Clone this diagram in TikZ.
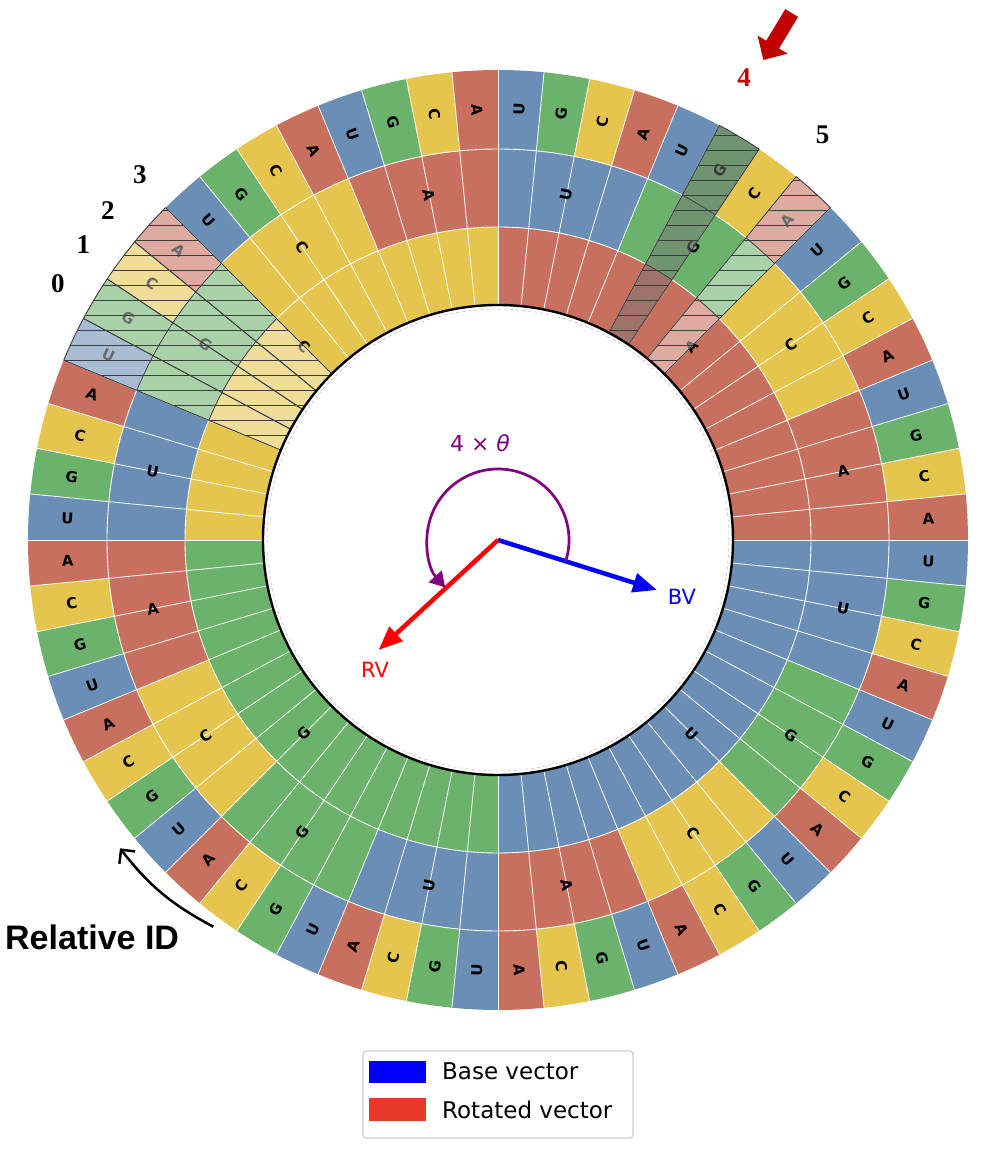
\documentclass[tikz,border=0pt]{standalone}
\usepackage{fontspec}
\setmainfont{Liberation Serif}
\newfontfamily\djs{DejaVu Sans}
\newfontfamily\lsans{Liberation Sans}
\usetikzlibrary{arrows.meta}
\definecolor{cA}{HTML}{C96F5E}
\definecolor{cU}{HTML}{6A8EB5}
\definecolor{cG}{HTML}{6BB26B}
\definecolor{cC}{HTML}{E6C54F}
\definecolor{hatchline}{HTML}{3C3C3C}
\definecolor{darkred}{HTML}{C00000}
\definecolor{vpurple}{HTML}{800080}
\definecolor{legred}{HTML}{E8382A}
\definecolor{legborder}{HTML}{CCCCCC}
\definecolor{hgray}{HTML}{767676}
\begin{document}
\begin{tikzpicture}[x=1pt,y=1pt,
  seglbl/.style={font=\djs\bfseries\fontsize{15}{15}\selectfont, inner sep=0pt, text=black},
  numlbl/.style={font=\bfseries\fontsize{27}{27}\selectfont, inner sep=0pt},
  hovlight/.style={fill=white, fill opacity=0.42},
  hovdark/.style={fill=hgray, fill opacity=0.5},
  hline/.style={draw=hatchline, line width=0.9pt},
  vecarrow/.style={line width=4.5pt, -{Triangle[length=24pt,width=19pt]}},
  veclbl/.style={font=\djs\fontsize{21}{21}\selectfont, inner sep=0pt},
  legtext/.style={font=\djs\fontsize{23}{23}\selectfont, anchor=base west, inner sep=0pt}]
\useasboundingbox (-498,-610) rectangle (499,540);

% ---------- ring cells ----------
\foreach \i in {0,...,63}{
  \pgfmathsetmacro\aone{90-5.625*(\i+1)}
  \pgfmathsetmacro\atwo{90-5.625*\i}
  \pgfmathtruncatemacro\q{floor(\i/16)}
  \pgfmathtruncatemacro\m{mod(floor(\i/4),4)}
  \pgfmathtruncatemacro\o{mod(\i,4)}
  \edef\Lq{\ifcase\q A\or U\or G\or C\fi}
  \edef\Lm{\ifcase\m U\or G\or C\or A\fi}
  \edef\Lo{\ifcase\o U\or G\or C\or A\fi}
  \fill[c\Lq] (\aone:235pt) arc[start angle=\aone,end angle=\atwo,radius=235pt] -- (\atwo:313.5pt) arc[start angle=\atwo,end angle=\aone,radius=313.5pt] -- cycle;
  \fill[c\Lm] (\aone:313pt) arc[start angle=\aone,end angle=\atwo,radius=313pt] -- (\atwo:391.5pt) arc[start angle=\atwo,end angle=\aone,radius=391.5pt] -- cycle;
  \fill[c\Lo] (\aone:391pt) arc[start angle=\aone,end angle=\atwo,radius=391pt] -- (\atwo:470pt) arc[start angle=\atwo,end angle=\aone,radius=470pt] -- cycle;
}
% white separators
\foreach \i in {0,...,63}{
  \draw[white, line width=0.8pt] ({90-5.625*\i}:235pt) -- ({90-5.625*\i}:470pt);
}
\draw[white, line width=0.9pt] (0,0) circle[radius=313pt];
\draw[white, line width=0.9pt] (0,0) circle[radius=391pt];

% ---------- labels ----------
\foreach \i in {0,...,63}{
  \pgfmathsetmacro\mid{90-5.625*(\i+0.5)}
  \pgfmathsetmacro\rot{cos(\mid)>0 ? \mid : \mid+180}
  \pgfmathtruncatemacro\o{mod(\i,4)}
  \edef\Lo{\ifcase\o U\or G\or C\or A\fi}
  \node[seglbl, rotate=\rot] (ol\i) at (\mid:431pt) {\Lo};
}
\foreach \g in {0,...,15}{
  \pgfmathsetmacro\mid{90-22.5*(\g+0.5)}
  \pgfmathsetmacro\rot{cos(\mid)>0 ? \mid : \mid+180}
  \pgfmathtruncatemacro\m{mod(\g,4)}
  \edef\Lm{\ifcase\m U\or G\or C\or A\fi}
  \node[seglbl, rotate=\rot] (ml\g) at (\mid:352pt) {\Lm};
}
\foreach \qq/\L in {0/A,1/U,2/G,3/C}{
  \pgfmathsetmacro\mid{90-90*(\qq+0.5)}
  \pgfmathsetmacro\rot{cos(\mid)>0 ? \mid : \mid+180}
  \node[seglbl, rotate=\rot] (il\qq) at (\mid:274pt) {\L};
}

% ---------- hatched wedges ----------
\foreach \i/\kind in {7/light,52/light,53/light,54/light,55/light,5/dark}{
  \pgfmathsetmacro\aone{90-5.625*(\i+1)}
  \pgfmathsetmacro\atwo{90-5.625*\i}
  \fill[hov\kind] (\aone:235pt) arc[start angle=\aone,end angle=\atwo,radius=235pt] -- (\atwo:470pt) arc[start angle=\atwo,end angle=\aone,radius=470pt] -- cycle;
  \begin{scope}
    \clip (\aone:235pt) arc[start angle=\aone,end angle=\atwo,radius=235pt] -- (\atwo:470pt) arc[start angle=\atwo,end angle=\aone,radius=470pt] -- cycle;
    \foreach \yy in {0,15,...,480}{
      \draw[hline] (-480,\yy) -- (480,\yy);
    }
  \end{scope}
  \draw[hline] (\aone:235pt) arc[start angle=\aone,end angle=\atwo,radius=235pt] -- (\atwo:470pt) arc[start angle=\atwo,end angle=\aone,radius=470pt] -- cycle;
  \draw[hline] (\aone:313pt) arc[start angle=\aone,end angle=\atwo,radius=313pt];
  \draw[hline] (\aone:391pt) arc[start angle=\aone,end angle=\atwo,radius=391pt];
}

% inner circle
\draw[gray!50, dashed, line width=0.6pt] (0,0) circle[radius=231pt];
\draw[black, line width=2.4pt] (0,0) circle[radius=235pt];

% ---------- vectors ----------
\coordinate (ctr) at (0,0);
\coordinate (bvtip) at (159,-50);
\coordinate (rvtip) at (-119.5,-110);
\draw[vecarrow, blue] (ctr) -- (bvtip);
\draw[vecarrow, red] (ctr) -- (rvtip);
\draw[vpurple, line width=2.7pt, -{Triangle[length=15pt,width=17pt]}] (-17.5:71pt) arc[start angle=-17.5, end angle=222, radius=71pt];
\node[font=\djs\fontsize{22}{22}\selectfont, text=vpurple, inner sep=0pt] (theta) at (-18,97) {4 × {\itshape θ}};
\node[veclbl, text=blue] (bvl) at (184,-57) {BV};
\node[veclbl, text=red] (rvl) at (-123,-130) {RV};

% ---------- position numbers ----------
\node[numlbl] (n0) at (-440,256) {0};
\node[numlbl] (n1) at (-414.5,295) {1};
\node[numlbl] (n2) at (-390,329) {2};
\node[numlbl] (n3) at (-358,365) {3};
\node[numlbl, text=darkred] (n4) at (246,462) {4};
\node[numlbl] (n5) at (324.5,405.5) {5};
\coordinate (rtail) at (293.7,527);
\coordinate (rtip) at (265.3,480);
\draw[darkred, line width=15pt, -{Triangle[length=18pt,width=34pt]}] (rtail) -- (rtip);

% ---------- relative ID ----------
\coordinate (ridS) at (-284.7,-386.7);
\coordinate (ridE) at (-378,-308.3);
\draw[line width=2.5pt, -{Straight Barb[length=10pt,width=20pt]}] (ridS) to[bend left=12] (ridE);
\node[font=\lsans\bfseries\fontsize{34}{34}\selectfont, anchor=base west, inner sep=0pt] (rid) at (-493,-409) {Relative ID};

% ---------- legend ----------
\draw[legborder, rounded corners=3pt, line width=1.2pt, fill=white] (-135,-511) rectangle (135,-598);
\fill[blue] (-129,-521) rectangle (-72,-543);
\fill[legred] (-129,-558) rectangle (-72,-581);
\node[legtext] (lg1) at (-56,-539) {Base vector};
\node[legtext] (lg2) at (-56,-578) {Rotated vector};
\end{tikzpicture}
\end{document}
